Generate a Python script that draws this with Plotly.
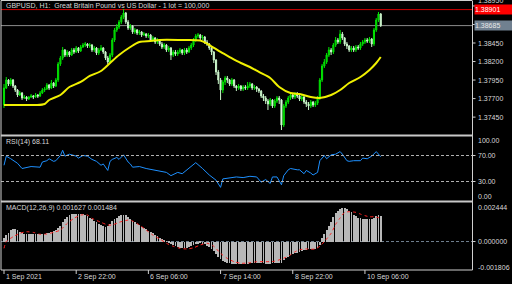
import plotly.graph_objects as go

# ---------------- data ----------------
bars = list(range(168))

opens = [
1.37613, 1.37843, 1.37951, 1.37897, 1.37951, 1.37870, 1.37816, 1.37748, 1.37775, 1.37708,
1.37721, 1.37694, 1.37721, 1.37735, 1.37721, 1.37748, 1.37735, 1.37775, 1.37816, 1.37829,
1.37883, 1.37843, 1.37910, 1.37870, 1.37951, 1.38167, 1.38248, 1.38356, 1.38288, 1.38329,
1.38288, 1.38356, 1.38329, 1.38383, 1.38342, 1.38396, 1.38423, 1.38437, 1.38410, 1.38423,
1.38356, 1.38383, 1.38315, 1.38356, 1.38383, 1.38329, 1.38248, 1.38194, 1.38288, 1.38491,
1.38626, 1.38666, 1.38734, 1.38801, 1.38855, 1.38734, 1.38653, 1.38680, 1.38599, 1.38626,
1.38585, 1.38599, 1.38558, 1.38572, 1.38545, 1.38558, 1.38491, 1.38518, 1.38464, 1.38491,
1.38437, 1.38396, 1.38423, 1.38356, 1.38383, 1.38288, 1.38329, 1.38302, 1.38329, 1.38356,
1.38315, 1.38356, 1.38329, 1.38383, 1.38423, 1.38491, 1.38545, 1.38558, 1.38518, 1.38531,
1.38464, 1.38437, 1.38383, 1.38329, 1.38221, 1.38059, 1.37951, 1.37816, 1.37924, 1.37978,
1.37951, 1.37897, 1.37951, 1.37870, 1.37843, 1.37870, 1.37829, 1.37856, 1.37843, 1.37870,
1.37897, 1.37843, 1.37856, 1.37829, 1.37802, 1.37735, 1.37708, 1.37667, 1.37627, 1.37681,
1.37600, 1.37667, 1.37708, 1.37681, 1.37343, 1.37600, 1.37654, 1.37708, 1.37748, 1.37721,
1.37762, 1.37735, 1.37694, 1.37721, 1.37654, 1.37627, 1.37600, 1.37654, 1.37613, 1.37640,
1.37708, 1.37951, 1.38140, 1.38194, 1.38288, 1.38356, 1.38329, 1.38423, 1.38491, 1.38464,
1.38572, 1.38518, 1.38437, 1.38410, 1.38356, 1.38383, 1.38356, 1.38396, 1.38383, 1.38437,
1.38464, 1.38491, 1.38477, 1.38504, 1.38437, 1.38626, 1.38761, 1.38842]

highs = [
1.37897, 1.37991, 1.37964, 1.37978, 1.37964, 1.37883, 1.37829, 1.37802, 1.37789, 1.37748,
1.37735, 1.37735, 1.37762, 1.37748, 1.37775, 1.37762, 1.37802, 1.37843, 1.37856, 1.37910,
1.37897, 1.37951, 1.37924, 1.37978, 1.38194, 1.38275, 1.38396, 1.38369, 1.38356, 1.38342,
1.38383, 1.38383, 1.38410, 1.38396, 1.38423, 1.38450, 1.38464, 1.38450, 1.38450, 1.38437,
1.38410, 1.38396, 1.38383, 1.38423, 1.38396, 1.38342, 1.38275, 1.38315, 1.38518, 1.38653,
1.38707, 1.38761, 1.38828, 1.38909, 1.38869, 1.38761, 1.38707, 1.38693, 1.38653, 1.38639,
1.38626, 1.38612, 1.38599, 1.38585, 1.38585, 1.38572, 1.38545, 1.38531, 1.38518, 1.38504,
1.38464, 1.38450, 1.38437, 1.38410, 1.38396, 1.38356, 1.38356, 1.38356, 1.38383, 1.38369,
1.38383, 1.38383, 1.38410, 1.38450, 1.38518, 1.38572, 1.38585, 1.38572, 1.38558, 1.38545,
1.38491, 1.38450, 1.38410, 1.38342, 1.38234, 1.38086, 1.37978, 1.37951, 1.38005, 1.38005,
1.37964, 1.37978, 1.37964, 1.37883, 1.37897, 1.37883, 1.37883, 1.37883, 1.37924, 1.37924,
1.37910, 1.37883, 1.37870, 1.37843, 1.37816, 1.37762, 1.37735, 1.37694, 1.37708, 1.37694,
1.37694, 1.37735, 1.37735, 1.37694, 1.37627, 1.37681, 1.37735, 1.37775, 1.37775, 1.37789,
1.37789, 1.37748, 1.37748, 1.37735, 1.37681, 1.37654, 1.37681, 1.37667, 1.37667, 1.37735,
1.37978, 1.38167, 1.38234, 1.38315, 1.38396, 1.38383, 1.38450, 1.38531, 1.38518, 1.38626,
1.38599, 1.38531, 1.38464, 1.38423, 1.38410, 1.38410, 1.38423, 1.38423, 1.38464, 1.38491,
1.38518, 1.38518, 1.38531, 1.38518, 1.38653, 1.38788, 1.38869, 1.38855]

lows = [
1.37573, 1.37829, 1.37870, 1.37870, 1.37843, 1.37789, 1.37721, 1.37735, 1.37681, 1.37694,
1.37667, 1.37681, 1.37708, 1.37694, 1.37708, 1.37708, 1.37721, 1.37762, 1.37789, 1.37816,
1.37816, 1.37829, 1.37843, 1.37856, 1.37924, 1.38140, 1.38221, 1.38261, 1.38261, 1.38261,
1.38275, 1.38302, 1.38315, 1.38315, 1.38329, 1.38383, 1.38396, 1.38383, 1.38383, 1.38329,
1.38329, 1.38288, 1.38288, 1.38342, 1.38302, 1.38221, 1.38167, 1.38180, 1.38261, 1.38464,
1.38599, 1.38639, 1.38707, 1.38774, 1.38707, 1.38626, 1.38626, 1.38572, 1.38572, 1.38558,
1.38558, 1.38531, 1.38545, 1.38518, 1.38518, 1.38464, 1.38464, 1.38437, 1.38437, 1.38410,
1.38369, 1.38369, 1.38329, 1.38329, 1.38221, 1.38261, 1.38275, 1.38275, 1.38302, 1.38288,
1.38288, 1.38302, 1.38315, 1.38356, 1.38396, 1.38464, 1.38518, 1.38491, 1.38491, 1.38437,
1.38410, 1.38356, 1.38288, 1.38180, 1.38018, 1.37897, 1.37681, 1.37775, 1.37883, 1.37910,
1.37870, 1.37870, 1.37843, 1.37802, 1.37816, 1.37802, 1.37802, 1.37816, 1.37816, 1.37843,
1.37816, 1.37816, 1.37789, 1.37775, 1.37708, 1.37667, 1.37627, 1.37546, 1.37600, 1.37573,
1.37573, 1.37640, 1.37627, 1.37276, 1.37316, 1.37573, 1.37627, 1.37681, 1.37694, 1.37694,
1.37708, 1.37667, 1.37667, 1.37627, 1.37586, 1.37546, 1.37573, 1.37586, 1.37586, 1.37613,
1.37681, 1.37924, 1.38113, 1.38167, 1.38261, 1.38288, 1.38302, 1.38396, 1.38437, 1.38437,
1.38491, 1.38410, 1.38369, 1.38329, 1.38329, 1.38329, 1.38329, 1.38356, 1.38356, 1.38410,
1.38437, 1.38450, 1.38450, 1.38396, 1.38410, 1.38599, 1.38734, 1.38666]

closes = [
1.37843, 1.37951, 1.37897, 1.37951, 1.37870, 1.37816, 1.37748, 1.37775, 1.37708, 1.37721,
1.37694, 1.37721, 1.37735, 1.37721, 1.37748, 1.37735, 1.37775, 1.37816, 1.37829, 1.37883,
1.37843, 1.37910, 1.37870, 1.37951, 1.38167, 1.38248, 1.38356, 1.38288, 1.38329, 1.38288,
1.38356, 1.38329, 1.38383, 1.38342, 1.38396, 1.38423, 1.38437, 1.38410, 1.38423, 1.38356,
1.38383, 1.38315, 1.38356, 1.38383, 1.38329, 1.38248, 1.38194, 1.38288, 1.38491, 1.38626,
1.38666, 1.38734, 1.38801, 1.38855, 1.38734, 1.38653, 1.38680, 1.38599, 1.38626, 1.38585,
1.38599, 1.38558, 1.38572, 1.38545, 1.38558, 1.38491, 1.38518, 1.38464, 1.38491, 1.38437,
1.38396, 1.38423, 1.38356, 1.38383, 1.38288, 1.38329, 1.38302, 1.38329, 1.38356, 1.38315,
1.38356, 1.38329, 1.38383, 1.38423, 1.38491, 1.38545, 1.38558, 1.38518, 1.38531, 1.38464,
1.38437, 1.38383, 1.38329, 1.38221, 1.38059, 1.37951, 1.37816, 1.37924, 1.37978, 1.37951,
1.37897, 1.37951, 1.37870, 1.37843, 1.37870, 1.37829, 1.37856, 1.37843, 1.37870, 1.37897,
1.37843, 1.37856, 1.37829, 1.37802, 1.37735, 1.37708, 1.37667, 1.37627, 1.37681, 1.37600,
1.37667, 1.37708, 1.37681, 1.37343, 1.37600, 1.37654, 1.37708, 1.37748, 1.37721, 1.37762,
1.37735, 1.37694, 1.37721, 1.37654, 1.37627, 1.37600, 1.37654, 1.37613, 1.37640, 1.37708,
1.37951, 1.38140, 1.38194, 1.38288, 1.38356, 1.38329, 1.38423, 1.38491, 1.38464, 1.38572,
1.38518, 1.38437, 1.38410, 1.38356, 1.38383, 1.38356, 1.38396, 1.38383, 1.38437, 1.38464,
1.38491, 1.38477, 1.38504, 1.38437, 1.38626, 1.38761, 1.38842, 1.38685]

ma_bars = [0, 7, 14, 18, 20, 25, 29, 34, 38, 43, 47, 51, 56, 60, 65, 69, 78, 87, 91, 96,
           100, 105, 109, 113, 118, 122, 127, 131, 136, 140, 145, 149, 153, 158, 162, 165, 167]
ma_vals = [1.37613, 1.37613, 1.37613, 1.37627, 1.37681, 1.37748, 1.37856, 1.37924, 1.38005,
           1.38072, 1.38180, 1.38288, 1.38396, 1.38464, 1.38477, 1.38491, 1.38491, 1.38484,
           1.38423, 1.38329, 1.38261, 1.38180, 1.38126, 1.38059, 1.37978, 1.37856, 1.37775,
           1.37762, 1.37721, 1.37708, 1.37748, 1.37816, 1.37910, 1.37991, 1.38086, 1.38180, 1.38261]

rsi_bars = [0, 1, 3, 6, 8, 12, 16, 17, 19, 20, 22, 23, 25, 26, 27, 29, 32, 33, 35, 37, 39,
            41, 43, 44, 46, 47, 48, 50, 51, 53, 55, 56, 57, 60, 63, 66, 69, 72, 74, 77, 79,
            82, 85, 88, 91, 94, 96, 97, 100, 103, 106, 109, 112, 114, 116, 118, 119, 121,
            123, 124, 126, 127, 130, 131, 133, 134, 136, 137, 139, 140, 142, 143, 145, 147,
            149, 150, 152, 153, 155, 158, 159, 161, 163, 165, 167]
rsi_vals = [55, 69, 65, 58, 50, 53, 52, 60, 62, 65, 61, 62, 70, 78, 69, 72, 69, 66, 70, 69, 64,
            61, 55, 57, 47, 61, 64, 67, 64, 71, 60, 57, 52, 53, 50, 48, 47, 44, 39, 44, 42,
            50, 59, 50, 40, 32, 21, 34, 36, 37, 36, 38, 37, 29, 33, 27, 37, 37,
            25, 39, 48, 50, 48, 48, 42, 47, 43, 40, 44, 62, 70, 65, 71, 72,
            76, 72, 62, 61, 62, 62, 66, 65, 69, 76, 68.11]

macd_hist = [
0.00020, 0.00041, 0.00054, 0.00073, 0.00079, 0.00080, 0.00076, 0.00060, 0.00052, 0.00048,
0.00047, 0.00046, 0.00046, 0.00045, 0.00046, 0.00046, 0.00047, 0.00048, 0.00050, 0.00052,
0.00056, 0.00060, 0.00065, 0.00072, 0.00085, 0.00100, 0.00125, 0.00140, 0.00155, 0.00168,
0.00172, 0.00174, 0.00176, 0.00176, 0.00175, 0.00172, 0.00168, 0.00164, 0.00150, 0.00140,
0.00132, 0.00122, 0.00112, 0.00105, 0.00098, 0.00094, 0.00096, 0.00110, 0.00130, 0.00142,
0.00152, 0.00160, 0.00166, 0.00168, 0.00166, 0.00158, 0.00145, 0.00132, 0.00124, 0.00112,
0.00102, 0.00094, 0.00086, 0.00078, 0.00068, 0.00062, 0.00052, 0.00042, 0.00032, 0.00022,
0.00014, 0.00006, -0.00002, -0.00008, -0.00014, -0.00022, -0.00028, -0.00034, -0.00040, -0.00042,
-0.00043, -0.00041, -0.00034, -0.00028, -0.00022, -0.00018, -0.00014, -0.00011, -0.00013, -0.00018,
-0.00026, -0.00036, -0.00048, -0.00062, -0.00078, -0.00095, -0.00112, -0.00122, -0.00128, -0.00133,
-0.00138, -0.00140, -0.00142, -0.00143, -0.00144, -0.00143, -0.00143, -0.00142, -0.00140, -0.00138,
-0.00136, -0.00135, -0.00135, -0.00136, -0.00138, -0.00139, -0.00140, -0.00141, -0.00140, -0.00139,
-0.00137, -0.00135, -0.00133, -0.00138, -0.00120, -0.00105, -0.00095, -0.00085, -0.00080, -0.00075,
-0.00070, -0.00065, -0.00060, -0.00055, -0.00052, -0.00049, -0.00047, -0.00048, -0.00050, -0.00040,
-0.00022, 0.00020, 0.00050, 0.00070, 0.00100, 0.00122, 0.00157, 0.00179, 0.00195, 0.00205,
0.00214, 0.00212, 0.00204, 0.00196, 0.00185, 0.00170, 0.00160, 0.00152, 0.00147, 0.00145,
0.00145, 0.00144, 0.00143, 0.00140, 0.00150, 0.00162, 0.00168, 0.001627]

sig_bars = [0, 1, 4, 7, 10, 13, 16, 19, 22, 25, 28, 31, 34, 37, 39, 43, 46, 48, 51, 55, 57,
            60, 63, 66, 69, 72, 75, 78, 81, 84, 87, 90, 93, 96, 99, 102, 105, 109, 112, 116,
            120, 125, 127, 129, 131, 134, 136, 138, 140, 142, 145, 147, 149, 151, 153, 156,
            158, 160, 162, 164, 167]
sig_vals = [-0.00043, 0.0, 0.00030, 0.00052, 0.00062, 0.00058, 0.00046, 0.00048, 0.00058,
            0.00073, 0.00115, 0.00147, 0.00168, 0.00168, 0.00147, 0.00122, 0.00105, 0.00105,
            0.00122, 0.00136, 0.00130, 0.00105, 0.00073, 0.00041, 0.00017, -0.00011, -0.00030,
            -0.00043, -0.00047, -0.00040, -0.00022, -0.00011, -0.00030, -0.00075, -0.00107,
            -0.00128, -0.00138, -0.00135, -0.00128, -0.00128, -0.00125, -0.00100, -0.00085,
            -0.00065, -0.00052, -0.00047, -0.00049, -0.00047, -0.00030, 0.0, 0.00052, 0.00109,
            0.00150, 0.00185, 0.00189, 0.00185, 0.00174, 0.00164, 0.00157, 0.00157, 0.001484]

price_ticks = [1.37450, 1.37700, 1.37950, 1.38200, 1.38450, 1.38700, 1.38950]
price_tick_labels = ["1.37450", "1.37700", "1.37950", "1.38200", "1.38450", "", ""]
top_price_label = "1.38950"
red_level = 1.38901
gray_level = 1.38685
rsi_levels = [70, 30]
rsi_tick_labels = ["100.00", "70.00", "30.00", "0.00"]
macd_tick_labels = ["0.002444", "0.000000", "-0.001806"]
time_bars = [0, 32, 64, 96, 128, 160]
time_labels = ["1 Sep 2021", "2 Sep 22:00", "6 Sep 06:00", "7 Sep 14:00", "8 Sep 22:00", "10 Sep 06:00"]
title_text = "GBPUSD, H1:\u00a0 Great Britain Pound vs US Dollar - 1 lot = 100,000"
rsi_text = "RSI(14) 68.11"
macd_text = "MACD(12,26,9) 0.001627 0.001484"

# ---------------- layout helpers ----------------
W, H = 512, 284
def px(x):
    return x / W
def py(y):
    return 1 - y / H

TXT = "#d8d8d8"
FONT = "Liberation Sans"
FS = 7
BORDER = "#d0d0d0"

fig = go.Figure()

fig.add_trace(go.Candlestick(
    x=bars, open=opens, high=highs, low=lows, close=closes,
    xaxis="x", yaxis="y",
    increasing=dict(line=dict(color="#00e600", width=1), fillcolor="#00b400"),
    decreasing=dict(line=dict(color="#c8f5c8", width=1), fillcolor="#f0fff0"),
    whiskerwidth=0, showlegend=False, hoverinfo="skip"))

fig.add_trace(go.Scatter(x=ma_bars, y=ma_vals, xaxis="x", yaxis="y", mode="lines",
                         line=dict(color="#f0f000", width=2, shape="spline", smoothing=0.8),
                         showlegend=False, hoverinfo="skip"))

fig.add_trace(go.Scatter(x=rsi_bars, y=rsi_vals, xaxis="x", yaxis="y2", mode="lines",
                         line=dict(color="#1e90ff", width=1),
                         showlegend=False, hoverinfo="skip"))

fig.add_trace(go.Bar(x=bars, y=macd_hist, xaxis="x", yaxis="y3", width=0.36,
                     marker=dict(color="#b8b8b8", line=dict(width=0)),
                     showlegend=False, hoverinfo="skip"))

fig.add_trace(go.Scatter(x=sig_bars, y=sig_vals, xaxis="x", yaxis="y3", mode="lines",
                         line=dict(color="#ff2020", width=1, dash="dot", shape="spline", smoothing=0.6),
                         showlegend=False, hoverinfo="skip"))

shapes = []
# price level lines
shapes.append(dict(type="line", xref="paper", yref="y", x0=px(1), x1=px(472), y0=red_level, y1=red_level,
                   line=dict(color="#d00000", width=1), layer="below"))
shapes.append(dict(type="line", xref="paper", yref="y", x0=px(1), x1=px(472), y0=gray_level, y1=gray_level,
                   line=dict(color="#8c8c8c", width=1), layer="below"))
# rsi levels
for lv in rsi_levels:
    shapes.append(dict(type="line", xref="paper", yref="y2", x0=px(1), x1=px(472), y0=lv, y1=lv,
                       line=dict(color="#b0b0b0", width=1, dash="3px,2px")))
# macd zero
shapes.append(dict(type="line", xref="paper", yref="y3", x0=px(1), x1=px(472), y0=0, y1=0,
                   line=dict(color="#708090", width=1, dash="3px,2px"), layer="below"))
# borders
for (x0, y0, x1, y1) in [(1, 0.5, 472, 0.5), (1, 0.5, 1, 270), (472.5, 0.5, 472.5, 270), (1, 270, 472.5, 270)]:
    shapes.append(dict(type="line", xref="paper", yref="paper", x0=px(x0), x1=px(x1), y0=py(y0), y1=py(y1),
                       line=dict(color=BORDER, width=1)))
# separators
for ys in [135.5, 201.5]:
    shapes.append(dict(type="line", xref="paper", yref="paper", x0=px(1), x1=px(472.5), y0=py(ys), y1=py(ys),
                       line=dict(color="#c8c8c8", width=2)))
# price axis ticks
for t in price_ticks:
    shapes.append(dict(type="line", xref="paper", yref="y", x0=px(472.5), x1=px(475.5), y0=t, y1=t,
                       line=dict(color=BORDER, width=1)))
for t in [70, 30]:
    shapes.append(dict(type="line", xref="paper", yref="y2", x0=px(472.5), x1=px(475.5), y0=t, y1=t,
                       line=dict(color=BORDER, width=1)))
shapes.append(dict(type="line", xref="paper", yref="y3", x0=px(472.5), x1=px(475.5), y0=0, y1=0,
                   line=dict(color=BORDER, width=1)))
# time ticks
for b in time_bars:
    shapes.append(dict(type="line", xref="x", yref="paper", x0=b, x1=b, y0=py(270), y1=py(274),
                       line=dict(color=BORDER, width=1)))

ann = []
def label(x, y, text, xref="paper", yref="paper", xanchor="left", color=TXT, **kw):
    d = dict(x=x, y=y, xref=xref, yref=yref, text=text, showarrow=False, xanchor=xanchor,
             yanchor="middle", font=dict(family=FONT, size=FS, color=color))
    d.update(kw)
    ann.append(d)

label(px(4), py(6), title_text)
label(px(4), py(142), rsi_text)
label(px(4), py(208), macd_text)

for t, s in zip(price_ticks, price_tick_labels):
    if s:
        label(px(475.5), t, s, yref="y")
# top price label, mostly cut off at the top edge like the reference
label(px(475.5), py(0.5), top_price_label, yanchor="middle")
# rsi axis labels
label(px(475.5), py(140.5), rsi_tick_labels[0])
label(px(475.5), 70, rsi_tick_labels[1], yref="y2")
label(px(475.5), 30, rsi_tick_labels[2], yref="y2")
label(px(475.5), py(196), rsi_tick_labels[3])
# macd axis labels
label(px(475.5), py(207), macd_tick_labels[0])
label(px(475.5), 0, macd_tick_labels[1], yref="y3")
label(px(475.5), py(267), macd_tick_labels[2])
# colored price boxes
label(px(474), red_level, "%.5f" % red_level, yref="y", color="#ffffff",
      bgcolor="#ff0000", borderpad=0, width=38, height=9, align="left")
label(px(474), gray_level, "%.5f" % gray_level, yref="y", color="#e8e8e8",
      bgcolor="#708090", borderpad=0, width=38, height=9, align="left")
# time labels
for b, t in zip(time_bars, time_labels):
    label(b, py(277), t, xref="x", xshift=0)

fig.update_layout(
    width=W, height=H,
    margin=dict(l=0, r=0, t=0, b=0, pad=0),
    paper_bgcolor="#000000", plot_bgcolor="#000000",
    showlegend=False, bargap=0,
    xaxis=dict(domain=[px(1), px(472)], range=[-1.33, 207.45], visible=False,
               rangeslider=dict(visible=False), fixedrange=True, anchor="y3"),
    yaxis=dict(domain=[py(134), py(1)], range=[1.37222, 1.39017], visible=False, fixedrange=True),
    yaxis2=dict(domain=[py(201), py(136)], range=[0, 100], visible=False, fixedrange=True),
    yaxis3=dict(domain=[py(270), py(203)], range=[-0.001806, 0.002444], visible=False, fixedrange=True),
    shapes=shapes, annotations=ann,
)

fig.write_html("out.html", config=dict(displayModeBar=False))
